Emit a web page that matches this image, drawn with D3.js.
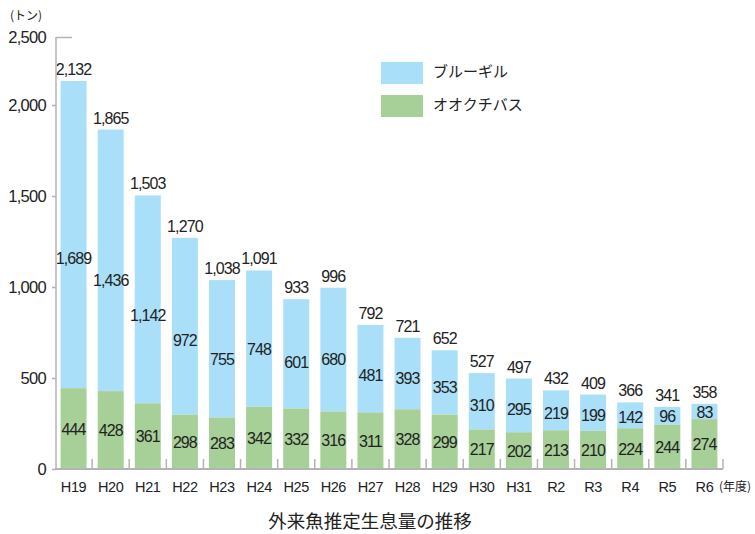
<!DOCTYPE html>
<html>
<head>
<meta charset="utf-8">
<script src="https://d3js.org/d3.v7.min.js"></script>
<style>
body { margin: 0; background: #fff; }
text { font-family: "Liberation Sans", Arial, "Noto Sans CJK JP", sans-serif; fill: #222; }
.jp { font-family: "Noto Sans CJK JP", sans-serif; }
</style>
</head>
<body>
<div id="chart"></div>
<script>
// data
var years = ["H19","H20","H21","H22","H23","H24","H25","H26","H27","H28","H29","H30","H31","R2","R3","R4","R5","R6"];
var bass = [444,428,361,298,283,342,332,316,311,328,299,217,202,213,210,224,244,274];       // オオクチバス
var bluegill = [1689,1436,1142,972,755,748,601,680,481,393,353,310,295,219,199,142,96,83]; // ブルーギル
var totals = [2132,1865,1503,1270,1038,1091,933,996,792,721,652,527,497,432,409,366,341,358];
var yTicks = [0,500,1000,1500,2000,2500];
var seriesNames = ["ブルーギル","オオクチバス"];

var W = 755, H = 534;
var blue = "#aadff9", green = "#a7cf98", axisCol = "#b3b3b3";

var svg = d3.select("#chart").append("svg")
    .attr("width", W).attr("height", H);

var x = d3.scaleBand().domain(years).range([55, 723])
    .paddingInner(0.3).paddingOuter(0.15);
// bars use a plain linear scale; the axis top (2,500) is squeezed like the original
var y = d3.scaleLinear().domain([0, 2000]).range([469, 105]);
var yAx = d3.scaleLinear().domain([0, 2000, 2500]).range([469, 105, 37]);

var fmt = d3.format(",");

function num(sel) {
  return sel.attr("text-anchor", "middle").attr("font-size", 16).attr("letter-spacing", -0.9);
}

// bars
var g = svg.append("g");
years.forEach(function(yr, i) {
  var x0 = x(yr), bw = x.bandwidth();
  var top = y(totals[i]);
  var mid = y(bass[i]);
  g.append("rect").attr("x", x0).attr("width", bw)
    .attr("y", top).attr("height", mid - top).attr("fill", blue);
  g.append("rect").attr("x", x0).attr("width", bw)
    .attr("y", mid).attr("height", y(0) - mid).attr("fill", green);

  var cx = x0 + bw / 2;
  num(g.append("text")).attr("x", cx).attr("y", top - 6)
    .text(fmt(totals[i]));
  num(g.append("text")).attr("x", cx).attr("y", (top + mid) / 2 + 0.08 * (mid - top) + 1)
    .attr("dominant-baseline", "middle")
    .text(fmt(bluegill[i]));
  num(g.append("text")).attr("x", cx).attr("y", (mid + y(0)) / 2 + 2)
    .attr("dominant-baseline", "middle")
    .text(fmt(bass[i]));
});

// y axis
var yAxis = svg.append("g").attr("transform", "translate(56,0)")
  .call(d3.axisLeft(yAx).tickValues(yTicks).tickSize(4).tickPadding(6).tickFormat(fmt));
yAxis.select(".domain").attr("stroke", axisCol).attr("stroke-width", 1.5)
  .attr("d", "M0," + yAx(2500) + "V" + yAx(0));
yAxis.selectAll(".tick line").attr("stroke", axisCol).attr("stroke-width", 1.5);
yAxis.selectAll(".tick text").attr("font-size", 16.5).attr("fill", "#222").attr("letter-spacing", -0.7)
  .style("font-family", "'Liberation Sans', Arial, sans-serif");
yAxis.selectAll(".tick").filter(function(d) { return d === 2500; })
  .select("line").attr("x2", 16);

// x axis
var xAxis = svg.append("g").attr("transform", "translate(0," + y(0) + ")");
xAxis.append("line").attr("x1", 55).attr("x2", 723)
  .attr("stroke", axisCol).attr("stroke-width", 2);
var bounds = years.map(function(yr) { return x(yr) - x.step() * x.paddingInner() / 2; });
bounds.push(723);
xAxis.selectAll(".sep").data(bounds.slice(1)).enter().append("line")
  .attr("x1", function(d) { return d; }).attr("x2", function(d) { return d; })
  .attr("y1", 0).attr("y2", -10).attr("stroke", axisCol).attr("stroke-width", 1.5);
xAxis.selectAll(".lab").data(years).enter().append("text")
  .attr("x", function(d) { return x(d) + x.bandwidth() / 2; })
  .attr("y", 23).attr("text-anchor", "middle").attr("font-size", 14.5).attr("letter-spacing", -0.4)
  .text(function(d) { return d; });

// units
svg.append("text").attr("class", "jp").attr("x", 10).attr("y", 20)
  .attr("font-size", 12).text("(トン)");
svg.append("text").attr("class", "jp").attr("x", 719).attr("y", 491)
  .attr("font-size", 12).text("(年度)");

// legend
var lg = svg.append("g").attr("transform", "translate(381,62)");
[blue, green].forEach(function(c, i) {
  lg.append("rect").attr("x", 0).attr("y", i * 33).attr("width", 42).attr("height", 22).attr("fill", c);
  lg.append("text").attr("class", "jp").attr("x", 52).attr("y", i * 33 + 11)
    .attr("dominant-baseline", "middle").attr("font-size", 15).attr("fill", "#333").text(seriesNames[i]);
});

// title
svg.append("text").attr("class", "jp").attr("x", 370).attr("y", 528)
  .attr("text-anchor", "middle").attr("font-size", 18.5).attr("fill", "#333").text("外来魚推定生息量の推移");
</script>
</body>
</html>
